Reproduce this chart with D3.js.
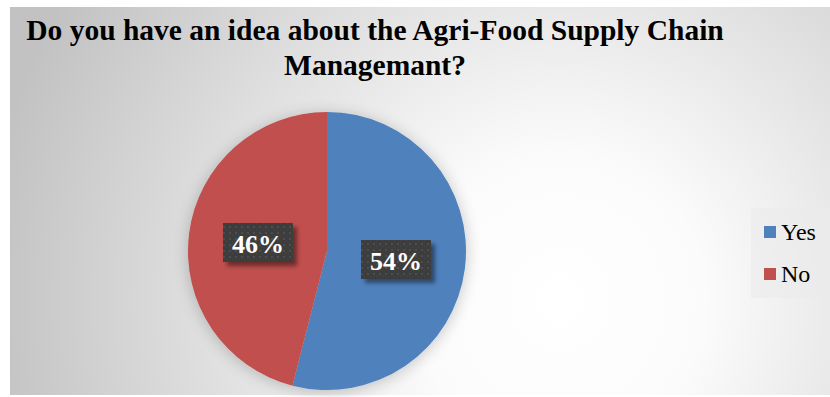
<!DOCTYPE html>
<html><head><meta charset="utf-8">
<script src="https://cdn.jsdelivr.net/npm/d3@7"></script>
<style>html,body{margin:0;padding:0;background:#fff;}svg{display:block;}</style>
</head><body>
<svg id="chart" width="830" height="397"></svg>
<script>
const categories = ["Yes", "No"];
const values = [54, 46];
const labels = ["54%", "46%"];
const colors = ["#4F81BD", "#C0504D"];
const titleLines = ["Do you have an idea about the Agri-Food Supply Chain", "Managemant?"];

const svg = d3.select("#chart");
const defs = svg.append("defs");
const rg = defs.append("radialGradient").attr("id","bg")
  .attr("gradientUnits","userSpaceOnUse").attr("cx",560).attr("cy",300).attr("r",580);
rg.append("stop").attr("offset","0%").attr("stop-color","#ffffff");
rg.append("stop").attr("offset","25%").attr("stop-color","#fbfbfb");
rg.append("stop").attr("offset","100%").attr("stop-color","#c2c2c2");

const sh = defs.append("filter").attr("id","pieshadow").attr("x","-20%").attr("y","-20%").attr("width","140%").attr("height","140%");
sh.append("feGaussianBlur").attr("in","SourceAlpha").attr("stdDeviation",8).attr("result","b");
sh.append("feOffset").attr("in","b").attr("dx",0).attr("dy",2).attr("result","o");
sh.append("feComponentTransfer").attr("in","o").attr("result","o2")
  .append("feFuncA").attr("type","linear").attr("slope",0.22);
const m = sh.append("feMerge");
m.append("feMergeNode").attr("in","o2");
m.append("feMergeNode").attr("in","SourceGraphic");

const bs = defs.append("filter").attr("id","boxshadow").attr("x","-20%").attr("y","-20%").attr("width","150%").attr("height","160%");
bs.append("feGaussianBlur").attr("in","SourceAlpha").attr("stdDeviation",2).attr("result","b");
bs.append("feOffset").attr("in","b").attr("dx",4).attr("dy",4).attr("result","o");
bs.append("feComponentTransfer").attr("in","o").attr("result","o2")
  .append("feFuncA").attr("type","linear").attr("slope",0.45);
const m2 = bs.append("feMerge");
m2.append("feMergeNode").attr("in","o2");
m2.append("feMergeNode").attr("in","SourceGraphic");

const pat = defs.append("pattern").attr("id","dots").attr("patternUnits","userSpaceOnUse")
  .attr("width",6).attr("height",6);
pat.append("rect").attr("width",6).attr("height",6).attr("fill","#3c3c3c");
pat.append("rect").attr("x",1).attr("y",1).attr("width",2).attr("height",2).attr("fill","#4d4d4d");
pat.append("rect").attr("x",4).attr("y",4).attr("width",1).attr("height",1).attr("fill","#474747");

svg.append("rect").attr("x",10).attr("y",7).attr("width",820).attr("height",388).attr("fill","url(#bg)");

const title = svg.append("text").attr("font-family","'Liberation Serif','Times New Roman',serif")
  .attr("font-weight","bold").attr("font-size",29.5).attr("text-anchor","middle").attr("fill","#000");
titleLines.forEach((t,i)=>title.append("tspan").attr("x",375).attr("y",40+i*35).text(t));

const cx = 327, cy = 251, r = 139;
const pie = d3.pie().sort(null).value(d=>d)(values);
const arc = d3.arc().innerRadius(0).outerRadius(r);
const g = svg.append("g").attr("transform",`translate(${cx},${cy})`);
g.append("g").attr("filter","url(#pieshadow)").selectAll("path").data(pie).join("path")
  .attr("d",arc).attr("fill",(d,i)=>colors[i]);

const labelPos = [[396-cx, 260-cy],[258-cx, 243-cy]];
pie.forEach((d,i)=>{
  const [lx,ly] = labelPos[i];
  const lg = g.append("g").attr("transform",`translate(${lx},${ly})`);
  lg.append("rect").attr("x",-35).attr("y",-20).attr("width",70).attr("height",39)
    .attr("fill","url(#dots)").attr("filter","url(#boxshadow)");
  lg.append("text").attr("text-anchor","middle").attr("dy","0.35em").attr("y",1)
    .attr("font-family","'Liberation Serif','Times New Roman',serif").attr("font-weight","bold")
    .attr("font-size",26).attr("fill","#fff").text(labels[i]);
});

svg.append("rect").attr("x",751).attr("y",208).attr("width",79).attr("height",90).attr("fill","#ebebeb").attr("opacity",0.6);
const leg = svg.append("g");
categories.forEach((c,i)=>{
  const y = 232 + i*42;
  leg.append("rect").attr("x",764).attr("y",y-6).attr("width",12).attr("height",12).attr("fill",colors[i]);
  leg.append("text").attr("x",781).attr("y",y).attr("dy","0.35em")
    .attr("font-family","'Liberation Serif','Times New Roman',serif").attr("font-size",24).attr("fill","#000").text(c);
});
</script>
</body></html>
